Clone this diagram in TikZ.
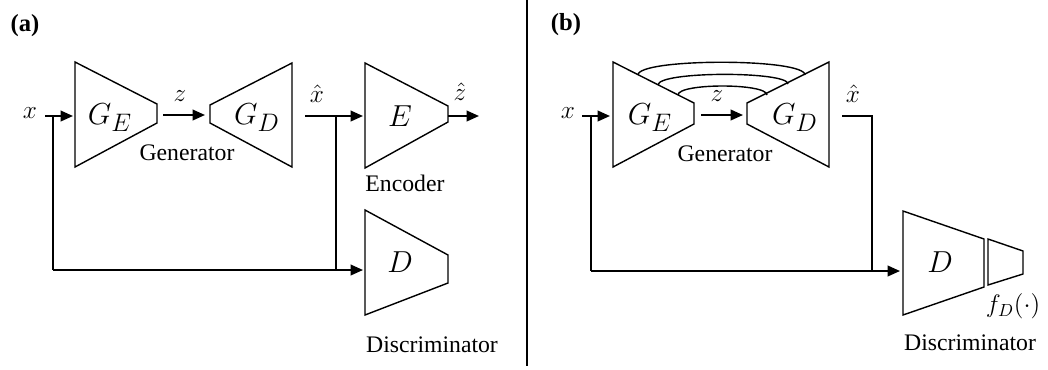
\documentclass[tikz,border=0pt]{standalone}
\usepackage{fontspec}
\setmainfont{Liberation Serif}
\newfontfamily\capfont{Liberation Serif}
\usetikzlibrary{arrows.meta}

\tikzset{
	block/.style={draw, line width=0.8pt, line join=miter},
	wire/.style={draw, line width=1.1pt},
	arrow/.style={wire, -{Triangle[length=7pt, width=6pt]}},
	caption/.style={font=\capfont\fontsize{13.5}{16}\selectfont},
	tag/.style={font=\capfont\fontsize{14}{17}\selectfont\bfseries},
	sym/.style={font=\fontsize{14}{17}\selectfont},
	big/.style={font=\fontsize{19}{22}\selectfont}
}

\begin{document}
\begin{tikzpicture}[x=0.02cm, y=-0.02cm]
		\useasboundingbox (0,0) rectangle (1048,369);

		% Divider between the panels
		\draw[line width=0.8pt] (527,0) -- (527,366);

		% Panel (a)
		\node[tag] (tagA) at (25,26) {(a)};
		\node[sym] (xA) at (30,113) {$x$};

		\draw[block] (75,62) -- (157,104) -- (157,123) -- (75,167) -- cycle;
		\node[big] (geA) at (110,118) {$G_E$};
		\draw[block] (210,105) -- (292,63) -- (292,167) -- (210,123) -- cycle;
		\node[big] (gdA) at (257,118) {$G_D$};
		\node[caption] (genA) at (187,153) {Generator};

		\draw[block] (365,63) -- (448,106) -- (448,122) -- (365,168) -- cycle;
		\node[big] (encA) at (400,116) {$E$};
		\node[caption] (encTxt) at (405,183) {Encoder};

		\draw[block] (365,210) -- (448,255) -- (448,283) -- (365,315) -- cycle;
		\node[big] (disA) at (400,262) {$D$};
		\node[caption] (disTxt) at (432,345) {Discriminator};

		\node[sym] (zA) at (180,96) {$z$};
		\node[sym] (xhA) at (317,94) {$\hat{x}$};
		\node[sym] (zhA) at (460,92) {$\hat{z}$};

		% connector ends
		\coordinate (xA0) at (45,116);
		\coordinate (xA1) at (53,116);
		\coordinate (xA2) at (53,270);
		\coordinate (geAin) at (73,116);
		\coordinate (geAout) at (163,115);
		\coordinate (gdAin) at (205,115);
		\coordinate (gdAout) at (305,116);
		\coordinate (xhA1) at (336,116);
		\coordinate (xhA2) at (336,270);
		\coordinate (encAin) at (363,116);
		\coordinate (encAout) at (448,116);
		\coordinate (zhAend) at (479,116);
		\coordinate (disAin) at (363,270);

		\draw[arrow] (xA0) -- (geAin);
		\draw[arrow] (geAout) -- (gdAin);
		\draw[arrow] (gdAout) -- (encAin);
		\draw[arrow] (encAout) -- (zhAend);
		\draw[wire] (xA1) -- (xA2);
		\draw[wire] (xhA1) -- (xhA2);
		\draw[arrow] (xA2) -- (disAin);

		% Panel (b)
		\node[tag] (tagB) at (566,25) {(b)};
		\node[sym] (xB) at (568,113) {$x$};

		\draw[block] (613,62) -- (694,103) -- (694,124) -- (613,167) -- cycle;
		\node[big] (geB) at (650,118) {$G_E$};
		\draw[block] (747,103) -- (829,62) -- (829,167) -- (747,124) -- cycle;
		\node[big] (gdB) at (795,118) {$G_D$};
		\node[caption] (genB) at (725,154) {Generator};

		\draw[block] (903,211) -- (984,239) -- (984,287) -- (903,315) -- cycle;
		\node[big] (disB) at (940,262) {$D$};
		\draw[block] (988,239) -- (1023,251) -- (1023,274) -- (988,285) -- cycle;
		\node[sym] (fD) at (1013,306) {$f_D(\cdot)$};
		\node[caption] (disTxtB) at (970,343) {Discriminator};

		\node[sym] (zB) at (717,96) {$z$};
		\node[sym] (xhB) at (853,94) {$\hat{x}$};

		% skip connections
		\coordinate (sk1a) at (638,75);
		\coordinate (sk1b) at (805,75);
		\coordinate (sk2a) at (658,85);
		\coordinate (sk2b) at (788,84);
		\coordinate (sk3a) at (678,95);
		\coordinate (sk3b) at (767,95);
		\draw[block] (sk1a) .. controls (638,58) and (805,58) .. (sk1b);
		\draw[block] (sk2a) .. controls (658,71) and (788,71) .. (sk2b);
		\draw[block] (sk3a) .. controls (678,83) and (767,83) .. (sk3b);

		% connector ends
		\coordinate (xB0) at (582,116);
		\coordinate (xB1) at (591,116);
		\coordinate (xB2) at (591,271);
		\coordinate (geBin) at (610,116);
		\coordinate (geBout) at (701,115);
		\coordinate (gdBin) at (743,115);
		\coordinate (gdBout) at (842,116);
		\coordinate (xhB1) at (872,116);
		\coordinate (xhB2) at (872,271);
		\coordinate (disBin) at (900,271);

		\draw[arrow] (xB0) -- (geBin);
		\draw[arrow] (geBout) -- (gdBin);
		\draw[wire] (gdBout) -- (xhB1) -- (xhB2);
		\draw[wire] (xB1) -- (xB2);
		\draw[arrow] (xB2) -- (disBin);
	\end{tikzpicture}
\end{document}
